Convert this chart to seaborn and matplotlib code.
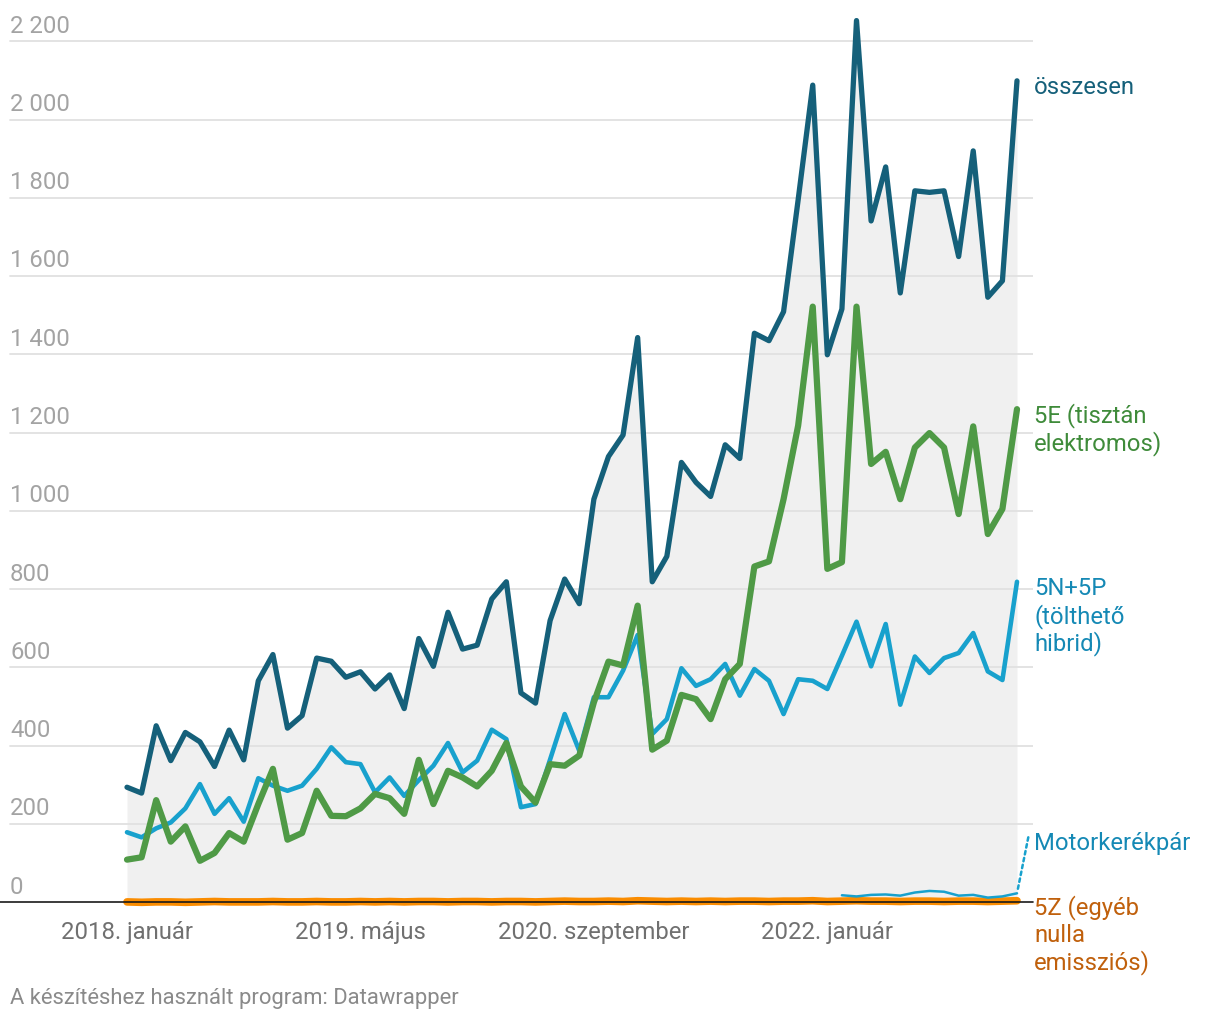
import numpy as np
import pandas as pd
import matplotlib
matplotlib.use("Agg")
import matplotlib.pyplot as plt
import matplotlib.transforms as mtransforms
import seaborn as sns

# ---------------- data (monthly, 2018-01 .. 2023-02) ----------------
months = pd.date_range("2018-01-01", periods=62, freq="MS")

total = [294, 279, 451, 362, 434, 410, 347, 440, 364, 566,
         633, 445, 477, 624, 616, 575, 589, 545, 581, 495,
         674, 603, 741, 647, 657, 775, 819, 535, 509, 720,
         826, 763, 1030, 1139, 1194, 1443, 819, 884, 1124, 1073,
         1037, 1169, 1134, 1454, 1435, 1509, 1795, 2088, 1399, 1516,
         2253, 1741, 1879, 1557, 1818, 1814, 1818, 1650, 1920, 1546,
         1588, 2099]

pure_ev = [109, 115, 261, 155, 194, 106, 126, 177, 155, 251,
           341, 160, 177, 285, 221, 220, 240, 277, 266, 226,
           364, 251, 336, 319, 296, 336, 407, 296, 255, 353,
           349, 375, 511, 615, 605, 758, 390, 413, 530, 519,
           468, 570, 609, 858, 871, 1030, 1218, 1522, 852, 869,
           1522, 1120, 1151, 1030, 1162, 1199, 1162, 992, 1216, 941,
           1005, 1260]

plugin_hybrid = [179, 166, 189, 204, 240, 302, 226, 266, 206, 317,
                 298, 285, 298, 341, 396, 358, 353, 281, 319, 272,
                 312, 349, 407, 332, 362, 441, 417, 243, 251, 365,
                 481, 387, 524, 524, 592, 683, 430, 468, 598, 553,
                 570, 609, 528, 596, 566, 481, 570, 566, 545, 630,
                 717, 603, 711, 505, 628, 586, 624, 637, 688, 590,
                 568, 819]

motorcycle = [np.nan] * 49 + [18, 15, 19, 20, 17, 25, 29, 27, 17, 19, 12, 15, 23]

other_zero = [1, 0, 1, 1, 0, 1, 2, 1, 1, 1, 2, 1, 1, 2, 1, 1, 2, 1, 2, 1,
              2, 2, 1, 2, 2, 1, 2, 2, 1, 2, 3, 2, 2, 3, 2, 4, 3, 2, 3, 2,
              3, 2, 3, 3, 2, 3, 3, 4, 2, 3, 4, 3, 3, 2, 3, 3, 2, 3, 3, 2,
              3, 4]

x_tick_pos = [0, 16, 32, 48]
x_tick_labels = ["2018. január", "2019. május", "2020. szeptember", "2022. január"]

y_ticks = [0, 200, 400, 600, 800, 1000, 1200, 1400, 1600, 1800, 2000, 2200]
y_tick_labels = ["0", "200", "400", "600", "800", "1 000", "1 200", "1 400",
                 "1 600", "1 800", "2 000", "2 200"]

series_labels = {
    "total": ["összesen"],
    "ev": ["5E (tisztán", "elektromos)"],
    "phev": ["5N+5P", "(tölthető", "hibrid)"],
    "moto": ["Motorkerékpár"],
    "zero": ["5Z (egyéb", "nulla", "emissziós)"],
}
footer = "A készítéshez használt program: Datawrapper"

# ---------------- style ----------------
sns.set_theme(style="white")
plt.rcParams["font.family"] = ["Roboto", "DejaVu Sans"]

FS = 17.2
C_TOTAL = "#15607a"
C_EV = "#4f9a46"
C_PHEV = "#18a1cd"
C_ZERO = "#fa8c00"
T_EV = "#3f8b3a"
T_PHEV = "#1589b5"
T_ZERO = "#c0600c"

W, H = 1220, 1020
fig = plt.figure(figsize=(W / 100, H / 100), dpi=100)
zero_px = 903.3
ppu = 861 / 2200          # pixels per unit
dx = 890 / 61             # pixels per month
ax = fig.add_axes([0, 1 - zero_px / H, 1033 / W, (zero_px - 10) / H])
ax.set_xlim(-127 / dx, (1033 - 127) / dx)
ax.set_ylim(0, (zero_px - 10) / ppu)
ax.axis("off")

df = pd.DataFrame({
    "idx": np.arange(len(months)),
    "month": months,
    "total": total,
    "ev": pure_ev,
    "phev": plugin_hybrid,
    "moto": motorcycle,
    "zero": other_zero,
})

# area under total
ax.fill_between(df["idx"], df["total"], 0, color="#f0f0f0", lw=0, zorder=1)

# gridlines + y labels
blend = mtransforms.blended_transform_factory(ax.transAxes, ax.transData)
for v, lbl in zip(y_ticks, y_tick_labels):
    if v != 0:
        ax.axhline(v, xmin=10 / 1033, xmax=1, color="#e1e1e1", lw=1.3, zorder=2)
    ax.annotate(lbl, xy=(10 / 1033, v), xycoords=blend, xytext=(0, 9.7 * 0.72),
                textcoords="offset points", ha="left", va="baseline",
                fontsize=FS, color="#a3a3a3", annotation_clip=False)

line_kw = dict(legend=False, sort=False, clip_on=False,
               solid_joinstyle="round", solid_capstyle="round")

sns.lineplot(data=df, x="idx", y="zero", color=C_ZERO, lw=5.5, zorder=5, ax=ax, **line_kw)
sns.lineplot(data=df, x="idx", y="phev", color=C_PHEV, lw=3.3, zorder=3, ax=ax, **line_kw)
sns.lineplot(data=df, x="idx", y="ev", color=C_EV, lw=4.5, zorder=4, ax=ax, **line_kw)
sns.lineplot(data=df, x="idx", y="total", color=C_TOTAL, lw=3.8, zorder=4.5, ax=ax, **line_kw)
sns.lineplot(data=df.dropna(subset=["moto"]), x="idx", y="moto", color=C_PHEV, lw=1.8,
             zorder=5.2, ax=ax, **line_kw)

# baseline
ax.axhline(0, xmin=0, xmax=1, color="#1a1a1a", lw=1.2, zorder=6, clip_on=False)

# x labels
for p, lbl in zip(x_tick_pos, x_tick_labels):
    ax.annotate(lbl, xy=(p, 0), xytext=(0, -35.7 * 0.72), textcoords="offset points",
                ha="center", va="baseline", fontsize=FS, color="#707070",
                annotation_clip=False)

# right-hand labels
last = len(months) - 1


def put_label(lines, yval, color, start_off=12.6):
    for i, t in enumerate(lines):
        ax.annotate(t, xy=(last, yval), xytext=(17 * 0.72, -(start_off + i * 27.6) * 0.72),
                    textcoords="offset points", ha="left", va="baseline",
                    fontsize=FS, color=color, annotation_clip=False)


put_label(series_labels["total"], total[-1], C_TOTAL)
put_label(series_labels["ev"], pure_ev[-1], T_EV)
put_label(series_labels["phev"], plugin_hybrid[-1], T_PHEV)
put_label(series_labels["zero"], other_zero[-1], T_ZERO)
put_label(series_labels["moto"], motorcycle[-1], T_PHEV, start_off=-44.3)

# dotted leader for motorcycle label
ax.annotate("", xy=(last, motorcycle[-1]), xytext=(11.3 * 0.72, 56 * 0.72),
            textcoords="offset points", annotation_clip=False,
            arrowprops=dict(arrowstyle="-", color=C_PHEV, lw=1.8,
                            linestyle=(0, (1.4, 1.4)), shrinkA=0, shrinkB=1.5))

fig.text(10 / W, 1 - 1004 / H, footer, fontsize=15.8, color="#8a8a8a",
         ha="left", va="baseline")

fig.savefig("out.png", dpi=100)
